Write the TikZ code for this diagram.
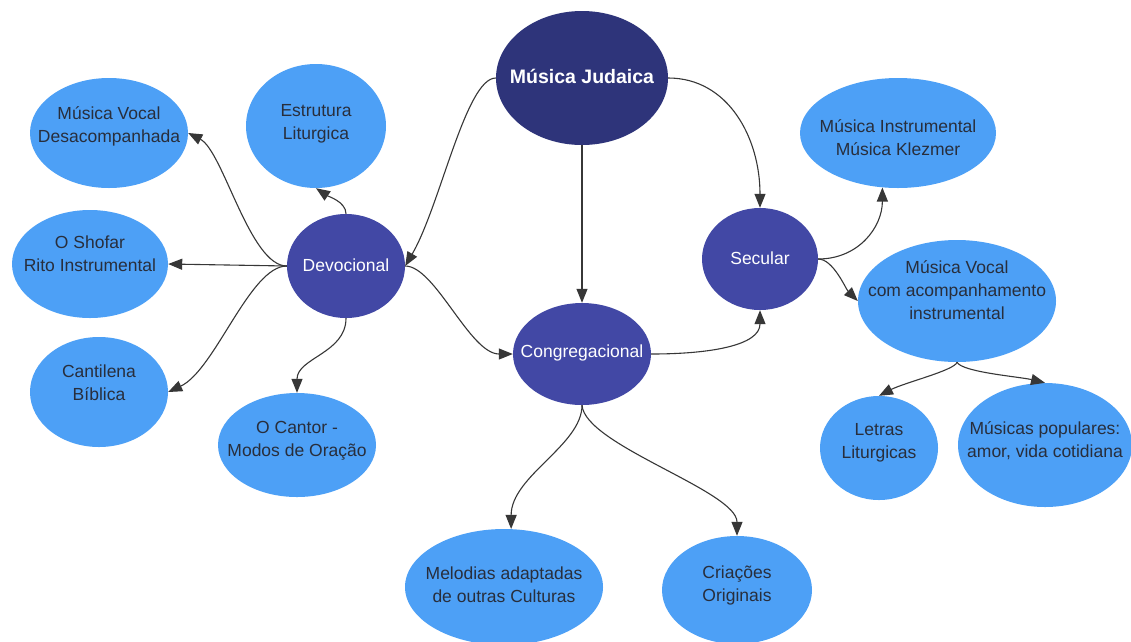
\documentclass[tikz,border=0pt]{standalone}
\usepackage{fontspec}
\setmainfont{Liberation Sans}
\usetikzlibrary{arrows.meta,shapes.geometric}
\definecolor{lightb}{RGB}{77,160,246}
\definecolor{darkb}{RGB}{66,72,165}
\definecolor{rootb}{RGB}{46,52,122}
\definecolor{txtc}{RGB}{40,46,60}
\definecolor{edgec}{RGB}{55,55,55}
\tikzset{
  bub/.style={ellipse, fill=lightb, draw=none, inner sep=0pt},
  dbub/.style={ellipse, fill=darkb, draw=none, inner sep=0pt},
  rbub/.style={ellipse, fill=rootb, draw=none, inner sep=0pt},
  ltxt/.style={align=center, text=txtc, font=\fontsize{17.5}{23}\selectfont, inner sep=0pt},
  dtxt/.style={align=center, text=white, font=\fontsize{17.5}{23}\selectfont, inner sep=0pt},
  rtxt/.style={align=center, text=white, font=\fontsize{19.5}{23}\selectfont\bfseries, inner sep=0pt},
  ed/.style={draw=edgec, line width=1.1pt, -{Triangle[length=14pt,width=11pt]}},
}
\begin{document}
\begin{tikzpicture}[x=1pt,y=-1pt]
\path[use as bounding box] (0,0) rectangle (1131,641);
\clip (0,0) rectangle (1131,641);
\fill[white] (0,0) rectangle (1131,641);
% nodes
\node[rbub, minimum width=172pt, minimum height=134pt] (mj) at (582,78) {};
\node[rtxt] (mj-t) at (582,76) {Música Judaica};
\node[bub, minimum width=140pt, minimum height=124pt] (est) at (316,126) {};
\node[ltxt] (est-t) at (316,124) {Estrutura\\Liturgica};
\node[bub, minimum width=158pt, minimum height=110pt] (mvd) at (109,133) {};
\node[ltxt] (mvd-t) at (109,126) {Música Vocal\\Desacompanhada};
\node[bub, minimum width=156pt, minimum height=108pt] (sho) at (90,264) {};
\node[ltxt] (sho-t) at (90,254) {O Shofar\\Rito Instrumental};
\node[dbub, minimum width=118pt, minimum height=104pt] (dev) at (346,266) {};
\node[dtxt] (dev-t) at (346,265) {Devocional};
\node[bub, minimum width=138pt, minimum height=110pt] (can) at (99,392) {};
\node[ltxt] (can-t) at (99,383) {Cantilena\\Bíblica};
\node[bub, minimum width=158pt, minimum height=104pt] (cor) at (297,445) {};
\node[ltxt] (cor-t) at (297,441) {O Cantor -\\Modos de Oração};
\node[dbub, minimum width=138pt, minimum height=102pt] (cong) at (582,354) {};
\node[dtxt] (cong-t) at (582,353) {Congregacional};
\node[dbub, minimum width=116pt, minimum height=102pt] (sec) at (760,259) {};
\node[dtxt] (sec-t) at (760,258) {Secular};
\node[bub, minimum width=196pt, minimum height=110pt] (mi) at (898,133) {};
\node[ltxt] (mi-t) at (898,138) {Música Instrumental\\Música Klezmer};
\node[bub, minimum width=198pt, minimum height=122pt] (mvc) at (957,301) {};
\node[ltxt] (mvc-t) at (957,290) {Música Vocal\\com acompanhamento\\instrumental};
\node[bub, minimum width=118pt, minimum height=104pt] (let) at (879,448) {};
\node[ltxt] (let-t) at (879,443) {Letras\\Liturgicas};
\node[bub, minimum width=174pt, minimum height=124pt] (pop) at (1045,445) {};
\node[ltxt] (pop-t) at (1045,441) {Músicas populares:\\amor, vida cotidiana};
\node[bub, minimum width=198pt, minimum height=116pt] (mel) at (504,587) {};
\node[ltxt] (mel-t) at (504,585) {Melodias adaptadas\\de outras Culturas};
\node[bub, minimum width=150pt, minimum height=108pt] (cri) at (737,590) {};
\node[ltxt] (cri-t) at (737,585) {Criações\\Originais};
% connectors
\draw[ed] (mj.west) .. controls +(-30,0) and +(35,-60) .. (dev.east);
\draw[ed] (mj.east) .. controls +(60,0) and +(0,-70) .. (sec.north);
\draw[ed] (mj.south) -- (cong.north);
\draw[ed] (dev.east) .. controls +(30,0) and +(-43,0) .. (cong.west);
\draw[ed] (cong.east) .. controls +(60,0) and +(0,35) .. (sec.south);
\draw[ed] (sec.east) .. controls +(40,0) and +(0,40) .. (mi.254);
\draw[ed] (sec.east) .. controls +(15,0) and +(-12,-12) .. (mvc.west);
\draw[ed] (dev.north) .. controls +(0,-12) and +(12,8) .. (est.south);
\draw[ed] (dev.west) .. controls +(-37,0) and +(35,18) .. (mvd.east);
\draw[ed] (dev.west) -- (sho.east);
\draw[ed] (dev.west) .. controls +(-37,0) and +(47,-22) .. (can.east);
\draw[ed] (dev.south) .. controls +(0,35) and +(0,-35) .. (cor.north);
\draw[ed] (cong.south) .. controls +(0,40) and +(0,-53) .. (mel.83);
\draw[ed] (cong.south) .. controls +(3,40) and +(0,-45) .. (cri.north);
\draw[ed] (mvc.south) .. controls +(-2,8) and +(25,-13) .. (let.north);
\draw[ed] (mvc.south) .. controls +(5,10) and +(-25,-6) .. (pop.north);
\end{tikzpicture}
\end{document}
